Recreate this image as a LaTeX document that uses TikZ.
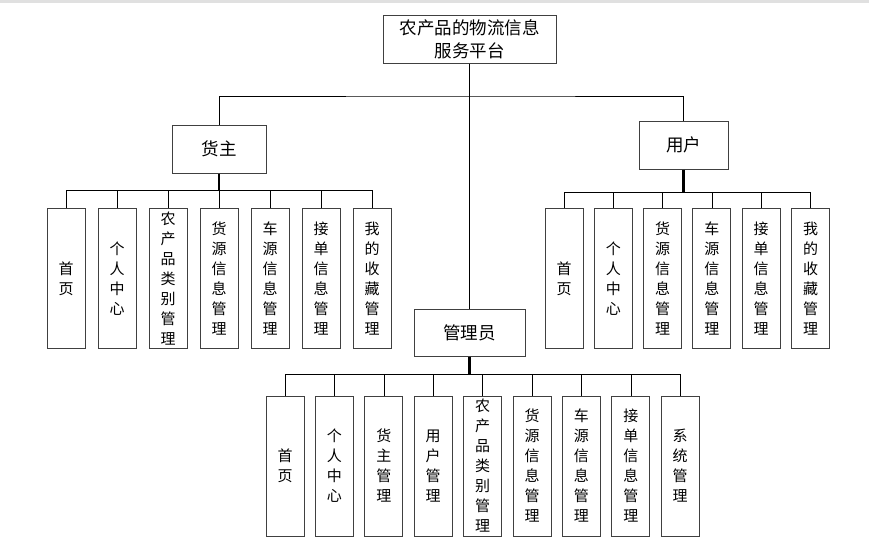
\documentclass[tikz,border=0pt]{standalone}
\usepackage{fontspec}
\setmainfont{Noto Sans CJK SC}
\usepackage{tikz}
\usetikzlibrary{positioning}

\begin{document}
\begin{tikzpicture}[x=1pt,y=-1pt,semithick]
\tikzstyle{topbox}=[draw=black!75,fill=white,line width=1pt,inner sep=0pt,align=center,font=\fontsize{17.5}{23}\selectfont]
\tikzstyle{leaf}=[draw=black!75,fill=white,line width=1pt,inner sep=0pt,minimum width=38pt,minimum height=140pt,align=center,font=\fontsize{15}{20}\selectfont]
\tikzstyle{stub}=[line width=2.2pt]
\useasboundingbox (0,0) rectangle (869,544);
\draw[black!12,line width=3pt] (0,1.5) -- (869,1.5);

% top level
\node[topbox,minimum width=173pt,minimum height=48pt] (root) at (469.5,39) {农产品的物流信息\\服务平台};
\node[topbox,minimum width=94pt,minimum height=48pt] (hz) at (219,149) {货主};
\node[topbox,minimum width=89pt,minimum height=48pt] (yh) at (683.5,145) {用户};
\node[topbox,minimum width=111pt,minimum height=47pt] (gly) at (469.5,332.5) {管理员};

\coordinate (rootbus) at (469.5,96);
\coordinate (hzbus) at (219,190);
\coordinate (yhbus) at (683.5,192);
\coordinate (glybus) at (469.5,374);

% 货主
\node[leaf] (hz1) at (66,278.5) {首\\页};
\node[leaf] (hz2) at (117,278.5) {个\\人\\中\\心};
\node[leaf] (hz3) at (168,278.5) {农\\产\\品\\类\\别\\管\\理};
\node[leaf] (hz4) at (219,278.5) {货\\源\\信\\息\\管\\理};
\node[leaf] (hz5) at (270,278.5) {车\\源\\信\\息\\管\\理};
\node[leaf] (hz6) at (321,278.5) {接\\单\\信\\息\\管\\理};
\node[leaf] (hz7) at (372,278.5) {我\\的\\收\\藏\\管\\理};

% 用户
\node[leaf] (yh1) at (564,278.5) {首\\页};
\node[leaf] (yh2) at (613.3,278.5) {个\\人\\中\\心};
\node[leaf] (yh3) at (662.6,278.5) {货\\源\\信\\息\\管\\理};
\node[leaf] (yh4) at (711.9,278.5) {车\\源\\信\\息\\管\\理};
\node[leaf] (yh5) at (761.2,278.5) {接\\单\\信\\息\\管\\理};
\node[leaf] (yh6) at (810.5,278.5) {我\\的\\收\\藏\\管\\理};

% 管理员
\node[leaf] (gly1) at (285,466) {首\\页};
\node[leaf] (gly2) at (334.4,466) {个\\人\\中\\心};
\node[leaf] (gly3) at (383.8,466) {货\\主\\管\\理};
\node[leaf] (gly4) at (433.2,466) {用\\户\\管\\理};
\node[leaf] (gly5) at (482.6,466) {农\\产\\品\\类\\别\\管\\理};
\node[leaf] (gly6) at (532,466) {货\\源\\信\\息\\管\\理};
\node[leaf] (gly7) at (581.4,466) {车\\源\\信\\息\\管\\理};
\node[leaf] (gly8) at (630.8,466) {接\\单\\信\\息\\管\\理};
\node[leaf] (gly9) at (680.2,466) {系\\统\\管\\理};

% connectors
\draw (root.south) -- (gly.north);
\draw (hz.north) |- (rootbus) -| (yh.north);
\draw[stub] (hz.south) -- (hzbus);
\draw[stub] (yh.south) -- (yhbus);
\draw[stub] (gly.south) -- (glybus);
\foreach \i in {1,...,7} \draw (hzbus) -| (hz\i.north);
\foreach \i in {1,...,6} \draw (yhbus) -| (yh\i.north);
\foreach \i in {1,...,9} \draw (glybus) -| (gly\i.north);
\end{tikzpicture}
\end{document}
